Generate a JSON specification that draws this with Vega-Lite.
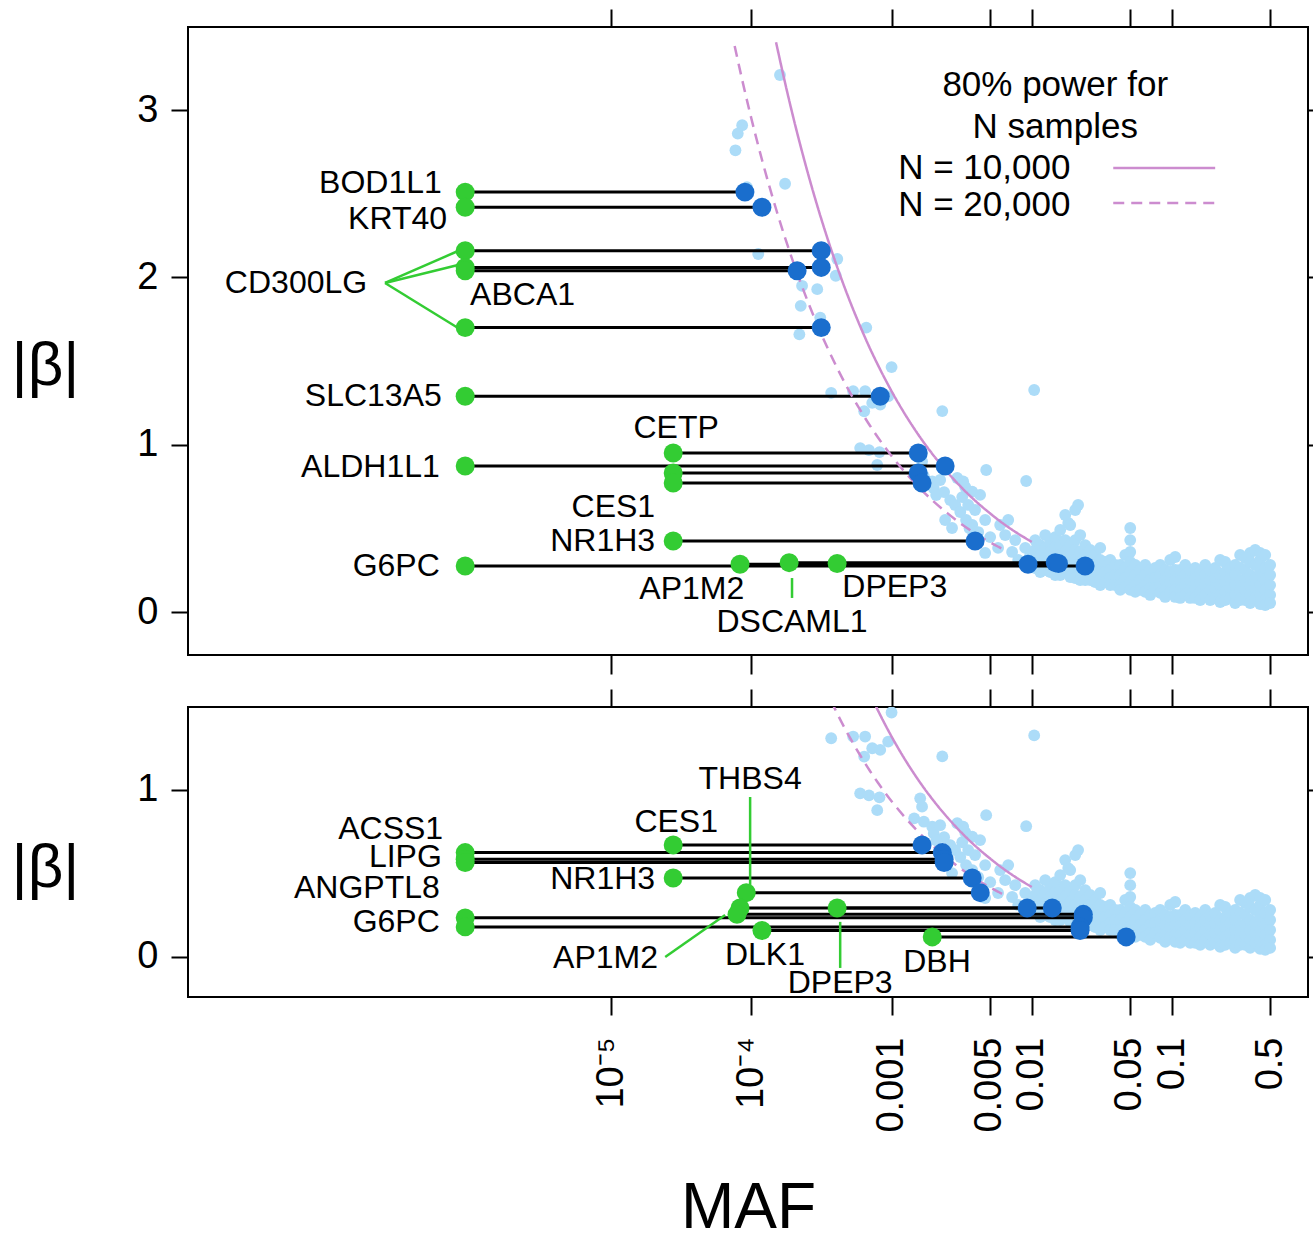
{
"$schema":"https://vega.github.io/schema/vega-lite/v6.json",
"background":"white",
"padding":{"left":10,"top":7,"right":0,"bottom":0},
"spacing":52,
"bounds":"flush",
"config":{"font":"Liberation Sans","view":{"stroke":"black","strokeWidth":2},"axis":{"labelFont":"Liberation Sans","titleFont":"Liberation Sans","labelColor":"black","titleColor":"black","tickColor":"black","tickWidth":2,"grid":false,"domain":false}},
"datasets":{
"bg":[
{"maf":1.6e-4,"beta":3.21},{"maf":8.6e-5,"beta":2.91},{"maf":8.0e-5,"beta":2.86},{"maf":7.7e-5,"beta":2.76},{"maf":1.74e-4,"beta":2.56},{"maf":9.3e-5,"beta":2.54},{"maf":1.12e-4,"beta":2.14},{"maf":4.1e-4,"beta":2.11},{"maf":4.0e-4,"beta":2.01},{"maf":2.3e-4,"beta":1.95},{"maf":2.95e-4,"beta":1.93},{"maf":2.25e-4,"beta":1.83},{"maf":3.1e-4,"beta":1.76},{"maf":2.2e-4,"beta":1.66},{"maf":6.6e-4,"beta":1.70},
{"maf":1.0e-3,"beta":1.464},{"maf":0.0104,"beta":1.327},{"maf":3.71e-4,"beta":1.31},{"maf":5.32e-4,"beta":1.32},{"maf":6.48e-4,"beta":1.32},{"maf":7.28e-4,"beta":1.25},{"maf":8.3e-4,"beta":1.24},{"maf":9.46e-4,"beta":1.29},{"maf":6.38e-4,"beta":1.20},{"maf":2.3e-3,"beta":1.201},
{"maf":5.97e-4,"beta":0.98},{"maf":6.9e-4,"beta":0.968},{"maf":8.2e-4,"beta":0.956},{"maf":7.9e-4,"beta":0.879},{"maf":1.6e-3,"beta":0.95},{"maf":1.65e-3,"beta":0.90},{"maf":1.45e-3,"beta":0.83},{"maf":1.7e-3,"beta":0.81},{"maf":1.95e-3,"beta":0.78},{"maf":2.0e-3,"beta":0.74},{"maf":3.24e-3,"beta":0.78},
{"maf":2.22e-3,"beta":0.789},{"maf":2.37e-3,"beta":0.717},{"maf":2.62e-3,"beta":0.669},{"maf":2.08e-3,"beta":0.699},{"maf":2.84e-3,"beta":0.64},{"maf":3.19e-3,"beta":0.687},{"maf":3.09e-3,"beta":0.598},{"maf":3.4e-3,"beta":0.55},{"maf":2.41e-3,"beta":0.55},{"maf":2.7e-3,"beta":0.502},{"maf":3.76e-3,"beta":0.52},{"maf":4.15e-3,"beta":0.478},{"maf":4.65e-3,"beta":0.55},{"maf":5.05e-3,"beta":0.448},{"maf":5.75e-3,"beta":0.383},{"maf":4.65e-3,"beta":0.353},{"maf":6.46e-3,"beta":0.46},{"maf":7.24e-3,"beta":0.359},{"maf":8.0e-3,"beta":0.311},{"maf":8.98e-3,"beta":0.383},{"maf":9.75e-3,"beta":0.341},{"maf":4.73e-3,"beta":0.849},{"maf":9.12e-3,"beta":0.783},{"maf":3.35e-3,"beta":0.747},{"maf":2.94e-3,"beta":0.801},{"maf":3.52e-3,"beta":0.64},{"maf":3.94e-3,"beta":0.61},{"maf":5.95e-3,"beta":0.52},{"maf":6.79e-3,"beta":0.55},{"maf":7.62e-3,"beta":0.43},{"maf":3.6e-3,"beta":0.50},{"maf":3.76e-3,"beta":0.72},{"maf":4.28e-3,"beta":0.70},
{"maf":0.0182,"beta":0.532},{"maf":0.0214,"beta":0.64},{"maf":0.361,"beta":0.353},
{"maf":0.01057,"beta":0.430},{"maf":0.01057,"beta":0.371},{"maf":0.01057,"beta":0.311},{"maf":0.01057,"beta":0.263},
{"maf":0.01148,"beta":0.400},{"maf":0.01148,"beta":0.341},{"maf":0.01148,"beta":0.281},{"maf":0.01148,"beta":0.239},
{"maf":0.01247,"beta":0.460},{"maf":0.01247,"beta":0.383},{"maf":0.01247,"beta":0.323},{"maf":0.01247,"beta":0.251},
{"maf":0.01353,"beta":0.418},{"maf":0.01353,"beta":0.359},{"maf":0.01353,"beta":0.239},
{"maf":0.01469,"beta":0.448},{"maf":0.01469,"beta":0.389},{"maf":0.01469,"beta":0.329},{"maf":0.01469,"beta":0.221},
{"maf":0.01595,"beta":0.490},{"maf":0.01595,"beta":0.400},{"maf":0.01595,"beta":0.341},{"maf":0.01595,"beta":0.281},{"maf":0.01595,"beta":0.221},
{"maf":0.01731,"beta":0.580},{"maf":0.01731,"beta":0.430},{"maf":0.01731,"beta":0.359},{"maf":0.01731,"beta":0.299},{"maf":0.01731,"beta":0.239},
{"maf":0.0188,"beta":0.520},{"maf":0.0188,"beta":0.400},{"maf":0.0188,"beta":0.329},{"maf":0.0188,"beta":0.269},{"maf":0.0188,"beta":0.209},
{"maf":0.02041,"beta":0.610},{"maf":0.02041,"beta":0.430},{"maf":0.02041,"beta":0.371},{"maf":0.02041,"beta":0.311},{"maf":0.02041,"beta":0.251},{"maf":0.02041,"beta":0.203},
{"maf":0.02215,"beta":0.460},{"maf":0.02215,"beta":0.359},{"maf":0.02215,"beta":0.299},{"maf":0.02215,"beta":0.239},{"maf":0.02215,"beta":0.191},
{"maf":0.02405,"beta":0.400},{"maf":0.02405,"beta":0.341},{"maf":0.02405,"beta":0.221},{"maf":0.02405,"beta":0.191},
{"maf":0.02611,"beta":0.371},{"maf":0.02611,"beta":0.311},{"maf":0.02611,"beta":0.251},{"maf":0.02611,"beta":0.191},
{"maf":0.02834,"beta":0.341},{"maf":0.02834,"beta":0.281},{"maf":0.02834,"beta":0.221},{"maf":0.02834,"beta":0.179},
{"maf":0.03077,"beta":0.383},{"maf":0.03077,"beta":0.311},{"maf":0.03077,"beta":0.251},{"maf":0.03077,"beta":0.191},{"maf":0.03077,"beta":0.161},
{"maf":0.0334,"beta":0.299},{"maf":0.0334,"beta":0.239},{"maf":0.0334,"beta":0.179},
{"maf":0.03626,"beta":0.311},{"maf":0.03626,"beta":0.251},{"maf":0.03626,"beta":0.203},{"maf":0.03626,"beta":0.161},
{"maf":0.03936,"beta":0.281},{"maf":0.03936,"beta":0.221},{"maf":0.03936,"beta":0.161},
{"maf":0.04273,"beta":0.281},{"maf":0.04273,"beta":0.221},{"maf":0.04273,"beta":0.161},{"maf":0.04273,"beta":0.132},
{"maf":0.04639,"beta":0.341},{"maf":0.04639,"beta":0.263},{"maf":0.04639,"beta":0.203},{"maf":0.04639,"beta":0.149},
{"maf":0.05036,"beta":0.502},{"maf":0.05036,"beta":0.430},{"maf":0.05036,"beta":0.359},{"maf":0.05036,"beta":0.299},{"maf":0.05036,"beta":0.239},{"maf":0.05036,"beta":0.179},{"maf":0.05036,"beta":0.132},
{"maf":0.05467,"beta":0.281},{"maf":0.05467,"beta":0.221},{"maf":0.05467,"beta":0.161},{"maf":0.05467,"beta":0.120},
{"maf":0.05935,"beta":0.251},{"maf":0.05935,"beta":0.191},{"maf":0.05935,"beta":0.132},
{"maf":0.06443,"beta":0.281},{"maf":0.06443,"beta":0.221},{"maf":0.06443,"beta":0.161},{"maf":0.06443,"beta":0.120},
{"maf":0.06994,"beta":0.251},{"maf":0.06994,"beta":0.191},{"maf":0.06994,"beta":0.143},{"maf":0.06994,"beta":0.102},
{"maf":0.07593,"beta":0.263},{"maf":0.07593,"beta":0.203},{"maf":0.07593,"beta":0.143},
{"maf":0.0824,"beta":0.281},{"maf":0.0824,"beta":0.221},{"maf":0.0824,"beta":0.161},{"maf":0.0824,"beta":0.114},
{"maf":0.0894,"beta":0.251},{"maf":0.0894,"beta":0.191},{"maf":0.0894,"beta":0.132},{"maf":0.0894,"beta":0.090},
{"maf":0.0971,"beta":0.311},{"maf":0.0971,"beta":0.239},{"maf":0.0971,"beta":0.179},{"maf":0.0971,"beta":0.120},
{"maf":0.1054,"beta":0.329},{"maf":0.1054,"beta":0.251},{"maf":0.1054,"beta":0.191},{"maf":0.1054,"beta":0.132},{"maf":0.1054,"beta":0.090},
{"maf":0.1144,"beta":0.251},{"maf":0.1144,"beta":0.191},{"maf":0.1144,"beta":0.132},{"maf":0.1144,"beta":0.084},
{"maf":0.1242,"beta":0.281},{"maf":0.1242,"beta":0.221},{"maf":0.1242,"beta":0.161},{"maf":0.1242,"beta":0.102},
{"maf":0.1348,"beta":0.251},{"maf":0.1348,"beta":0.191},{"maf":0.1348,"beta":0.132},{"maf":0.1348,"beta":0.084},
{"maf":0.1464,"beta":0.263},{"maf":0.1464,"beta":0.203},{"maf":0.1464,"beta":0.143},{"maf":0.1464,"beta":0.084},
{"maf":0.1589,"beta":0.239},{"maf":0.1589,"beta":0.179},{"maf":0.1589,"beta":0.120},{"maf":0.1589,"beta":0.072},
{"maf":0.1725,"beta":0.281},{"maf":0.1725,"beta":0.221},{"maf":0.1725,"beta":0.161},{"maf":0.1725,"beta":0.102},
{"maf":0.1872,"beta":0.251},{"maf":0.1872,"beta":0.191},{"maf":0.1872,"beta":0.132},{"maf":0.1872,"beta":0.072},
{"maf":0.2032,"beta":0.263},{"maf":0.2032,"beta":0.203},{"maf":0.2032,"beta":0.143},{"maf":0.2032,"beta":0.084},
{"maf":0.2206,"beta":0.311},{"maf":0.2206,"beta":0.221},{"maf":0.2206,"beta":0.161},{"maf":0.2206,"beta":0.102},{"maf":0.2206,"beta":0.060},
{"maf":0.2395,"beta":0.299},{"maf":0.2395,"beta":0.239},{"maf":0.2395,"beta":0.179},{"maf":0.2395,"beta":0.120},{"maf":0.2395,"beta":0.072},
{"maf":0.26,"beta":0.263},{"maf":0.26,"beta":0.203},{"maf":0.26,"beta":0.143},{"maf":0.26,"beta":0.084},
{"maf":0.282,"beta":0.281},{"maf":0.282,"beta":0.221},{"maf":0.282,"beta":0.161},{"maf":0.282,"beta":0.102},{"maf":0.282,"beta":0.054},
{"maf":0.306,"beta":0.341},{"maf":0.306,"beta":0.263},{"maf":0.306,"beta":0.191},{"maf":0.306,"beta":0.132},{"maf":0.306,"beta":0.072},
{"maf":0.332,"beta":0.323},{"maf":0.332,"beta":0.251},{"maf":0.332,"beta":0.191},{"maf":0.332,"beta":0.132},{"maf":0.332,"beta":0.072},
{"maf":0.361,"beta":0.299},{"maf":0.361,"beta":0.221},{"maf":0.361,"beta":0.161},{"maf":0.361,"beta":0.102},{"maf":0.361,"beta":0.054},
{"maf":0.392,"beta":0.371},{"maf":0.392,"beta":0.281},{"maf":0.392,"beta":0.203},{"maf":0.392,"beta":0.143},{"maf":0.392,"beta":0.084},
{"maf":0.425,"beta":0.353},{"maf":0.425,"beta":0.311},{"maf":0.425,"beta":0.239},{"maf":0.425,"beta":0.161},{"maf":0.425,"beta":0.102},{"maf":0.425,"beta":0.048},
{"maf":0.462,"beta":0.341},{"maf":0.462,"beta":0.263},{"maf":0.462,"beta":0.191},{"maf":0.462,"beta":0.132},{"maf":0.462,"beta":0.072},{"maf":0.462,"beta":0.042},
{"maf":0.501,"beta":0.281},{"maf":0.501,"beta":0.221},{"maf":0.501,"beta":0.161},{"maf":0.501,"beta":0.102},{"maf":0.501,"beta":0.054}
],
"curve":[
{"N":"10,000","maf":1.5e-4,"beta":3.406},{"N":"10,000","maf":1.7e-4,"beta":3.2},{"N":"10,000","maf":2e-4,"beta":2.95},{"N":"10,000","maf":2.5e-4,"beta":2.639},{"N":"10,000","maf":3e-4,"beta":2.409},{"N":"10,000","maf":4e-4,"beta":2.086},{"N":"10,000","maf":5e-4,"beta":1.866},{"N":"10,000","maf":6e-4,"beta":1.704},{"N":"10,000","maf":7e-4,"beta":1.577},{"N":"10,000","maf":8e-4,"beta":1.476},{"N":"10,000","maf":1e-3,"beta":1.32},{"N":"10,000","maf":1.5e-3,"beta":1.078},{"N":"10,000","maf":2e-3,"beta":0.934},{"N":"10,000","maf":2.5e-3,"beta":0.836},{"N":"10,000","maf":3e-3,"beta":0.763},{"N":"10,000","maf":4e-3,"beta":0.661},{"N":"10,000","maf":5e-3,"beta":0.592},{"N":"10,000","maf":6e-3,"beta":0.54},{"N":"10,000","maf":7e-3,"beta":0.5},{"N":"10,000","maf":8e-3,"beta":0.468},{"N":"10,000","maf":0.01,"beta":0.419},
{"N":"20,000","maf":7.6e-5,"beta":3.384},{"N":"20,000","maf":8.7e-5,"beta":3.163},{"N":"20,000","maf":1e-4,"beta":2.95},{"N":"20,000","maf":1.2e-4,"beta":2.693},{"N":"20,000","maf":1.5e-4,"beta":2.409},{"N":"20,000","maf":2e-4,"beta":2.086},{"N":"20,000","maf":2.5e-4,"beta":1.866},{"N":"20,000","maf":3e-4,"beta":1.703},{"N":"20,000","maf":4e-4,"beta":1.475},{"N":"20,000","maf":5e-4,"beta":1.319},{"N":"20,000","maf":6e-4,"beta":1.205},{"N":"20,000","maf":7e-4,"beta":1.115},{"N":"20,000","maf":8e-4,"beta":1.043},{"N":"20,000","maf":1e-3,"beta":0.933},{"N":"20,000","maf":1.5e-3,"beta":0.762},{"N":"20,000","maf":2e-3,"beta":0.66},{"N":"20,000","maf":2.5e-3,"beta":0.591},{"N":"20,000","maf":3e-3,"beta":0.539},{"N":"20,000","maf":4e-3,"beta":0.467},{"N":"20,000","maf":5e-3,"beta":0.418},{"N":"20,000","maf":5.8e-3,"beta":0.389},{"N":"20,000","maf":6.7e-3,"beta":0.362}
],
"segTop":[
{"g":"BOD1L1","lo":9.1e-7,"hi":9.0e-5,"beta":2.51},
{"g":"KRT40","lo":9.1e-7,"hi":1.19e-4,"beta":2.42},
{"g":"CD300LG","lo":9.1e-7,"hi":3.15e-4,"beta":2.16},
{"g":"CD300LG","lo":9.1e-7,"hi":3.15e-4,"beta":2.06},
{"g":"ABCA1","lo":9.1e-7,"hi":2.12e-4,"beta":2.04},
{"g":"CD300LG","lo":9.1e-7,"hi":3.15e-4,"beta":1.70},
{"g":"SLC13A5","lo":9.1e-7,"hi":8.3e-4,"beta":1.29},
{"g":"CETP","lo":2.77e-5,"hi":1.55e-3,"beta":0.95},
{"g":"ALDH1L1","lo":9.1e-7,"hi":2.41e-3,"beta":0.873},
{"g":"CES1","lo":2.77e-5,"hi":1.55e-3,"beta":0.831},
{"g":"CES1","lo":2.77e-5,"hi":1.65e-3,"beta":0.771},
{"g":"NR1H3","lo":2.77e-5,"hi":3.94e-3,"beta":0.424},
{"g":"G6PC","lo":9.1e-7,"hi":0.024,"beta":0.275},
{"g":"AP1M2","lo":8.3e-5,"hi":9.4e-3,"beta":0.285},
{"g":"DSCAML1","lo":1.86e-4,"hi":0.0147,"beta":0.295},
{"g":"DPEP3","lo":4.09e-4,"hi":0.0155,"beta":0.29}
],
"segBot":[
{"g":"CES1","lo":2.77e-5,"hi":1.65e-3,"beta":0.671},
{"g":"ACSS1","lo":9.1e-7,"hi":2.30e-3,"beta":0.625},
{"g":"LIPG","lo":9.1e-7,"hi":2.37e-3,"beta":0.585},
{"g":"ANGPTL8","lo":9.1e-7,"hi":2.37e-3,"beta":0.565},
{"g":"NR1H3","lo":2.77e-5,"hi":3.76e-3,"beta":0.473},
{"g":"THBS4","lo":9.2e-5,"hi":4.29e-3,"beta":0.385},
{"g":"AP1M2","lo":8.3e-5,"hi":9.27e-3,"beta":0.293},
{"g":"DPEP3","lo":4.09e-4,"hi":0.014,"beta":0.293},
{"g":"AP1M2","lo":7.9e-5,"hi":0.0233,"beta":0.255},
{"g":"G6PC","lo":9.1e-7,"hi":0.0233,"beta":0.234},
{"g":"G6PC","lo":9.1e-7,"hi":0.0221,"beta":0.18},
{"g":"DLK1","lo":1.19e-4,"hi":0.0221,"beta":0.158},
{"g":"DBH","lo":1.95e-3,"hi":0.0471,"beta":0.12}
],
"labTop":[
{"t":"BOD1L1","maf":6.2e-7,"beta":2.564,"a":"r"},
{"t":"KRT40","maf":6.76e-7,"beta":2.349,"a":"r"},
{"t":"CD300LG","maf":1.82e-7,"beta":1.967,"a":"r"},
{"t":"ABCA1","maf":9.87e-7,"beta":1.895,"a":"l"},
{"t":"SLC13A5","maf":6.2e-7,"beta":1.291,"a":"r"},
{"t":"CETP","maf":2.91e-5,"beta":1.1,"a":"c"},
{"t":"ALDH1L1","maf":6.0e-7,"beta":0.867,"a":"r"},
{"t":"CES1","maf":2.06e-5,"beta":0.628,"a":"r"},
{"t":"NR1H3","maf":2.06e-5,"beta":0.424,"a":"r"},
{"t":"G6PC","maf":6.0e-7,"beta":0.275,"a":"r"},
{"t":"AP1M2","maf":8.9e-5,"beta":0.137,"a":"r"},
{"t":"DSCAML1","maf":1.95e-4,"beta":-0.06,"a":"c"},
{"t":"DPEP3","maf":4.45e-4,"beta":0.149,"a":"l"}
],
"labBot":[
{"t":"THBS4","maf":9.8e-5,"beta":1.066,"a":"c"},
{"t":"CES1","maf":2.91e-5,"beta":0.808,"a":"c"},
{"t":"ACSS1","maf":6.34e-7,"beta":0.768,"a":"r"},
{"t":"LIPG","maf":6.2e-7,"beta":0.599,"a":"r"},
{"t":"ANGPTL8","maf":6.0e-7,"beta":0.415,"a":"r"},
{"t":"G6PC","maf":6.0e-7,"beta":0.21,"a":"r"},
{"t":"NR1H3","maf":2.06e-5,"beta":0.467,"a":"r"},
{"t":"AP1M2","maf":2.16e-5,"beta":-0.006,"a":"r"},
{"t":"DLK1","maf":1.25e-4,"beta":0.012,"a":"c"},
{"t":"DPEP3","maf":4.3e-4,"beta":-0.156,"a":"c"},
{"t":"DBH","maf":2.11e-3,"beta":-0.03,"a":"c"}
],
"leadTop":[
{"x1":2.44e-7,"x2":8.1e-7,"y1":1.967,"y2":2.158},
{"x1":2.44e-7,"x2":8.1e-7,"y1":1.967,"y2":2.074},
{"x1":2.44e-7,"x2":8.1e-7,"y1":1.967,"y2":1.698},
{"x1":1.95e-4,"x2":1.95e-4,"y1":0.203,"y2":0.084}
],
"leadBot":[
{"x1":9.8e-5,"x2":9.8e-5,"y1":0.958,"y2":0.431},
{"x1":2.43e-5,"x2":6.5e-5,"y1":0.0,"y2":0.251},
{"x1":4.3e-4,"x2":4.3e-4,"y1":0.21,"y2":-0.066}
],
"legText":[
{"t":"80% power for","maf":0.01469,"beta":3.15,"a":"c"},
{"t":"N samples","maf":0.01469,"beta":2.899,"a":"c"},
{"t":"N = 10,000","maf":1.114e-3,"beta":2.654,"a":"l"},
{"t":"N = 20,000","maf":1.114e-3,"beta":2.433,"a":"l"}
],
"legLine":[
{"maf":0.0381,"maf2":0.2032,"beta":2.654,"N":"10,000"},
{"maf":0.0381,"maf2":0.2032,"beta":2.445,"N":"20,000"}
]
},
"vconcat":[
{
"width":1120,"height":628,
"resolve":{"axis":{"x":"independent","y":"independent"}},
"layer":[
{"data":{"name":"bg"},"mark":{"type":"circle","size":140,"opacity":1,"color":"#acdcf8","clip":true},
"encoding":{"x":{"field":"maf","type":"quantitative","scale":{"type":"log","domain":[9.6e-9,0.933],"nice":false},"axis":{"orient":"bottom","values":[1e-5,1e-4,1e-3,5e-3,1e-2,5e-2,0.1,0.5],"labels":false,"tickSize":19,"title":null}},
"y":{"field":"beta","type":"quantitative","scale":{"domain":[-0.257,3.497],"nice":false,"zero":false},"axis":{"orient":"left","values":[0,1,2,3],"tickSize":17,"labelFontSize":38,"labelPadding":13,"title":"|β|","titleFontSize":62,"titleFontWeight":"normal","titleAngle":0,"titleX":-143,"titleY":338,"titleAlign":"center","titleBaseline":"middle"}}}},
{"data":{"name":"segTop"},"mark":{"type":"rule","color":"black","strokeWidth":3,"clip":true},
"encoding":{"x":{"field":"lo","type":"quantitative","scale":{"type":"log","domain":[9.6e-9,0.933],"nice":false},"axis":{"orient":"top","values":[1e-5,1e-4,1e-3,5e-3,1e-2,5e-2,0.1,0.5],"labels":false,"tickSize":18,"title":null}},"x2":{"field":"hi"},
"y":{"field":"beta","type":"quantitative","scale":{"domain":[-0.257,3.497],"nice":false,"zero":false},"axis":{"orient":"right","values":[0,1,2,3],"labels":false,"tickSize":5,"title":null}}}},
{"data":{"name":"curve"},"mark":{"type":"line","color":"#cc8ccf","strokeWidth":2.5,"interpolate":"monotone","clip":true},
"encoding":{"x":{"field":"maf","type":"quantitative","scale":{"type":"log","domain":[9.6e-9,0.933],"nice":false},"axis":null},
"y":{"field":"beta","type":"quantitative","scale":{"domain":[-0.257,3.497],"nice":false,"zero":false},"axis":null},
"strokeDash":{"field":"N","type":"nominal","scale":{"domain":["10,000","20,000"],"range":[[1,0],[11,7]]},"legend":null}}},
{"data":{"name":"legLine"},"mark":{"type":"rule","color":"#cc8ccf","strokeWidth":2.5},
"encoding":{"x":{"field":"maf","type":"quantitative","scale":{"type":"log","domain":[9.6e-9,0.933],"nice":false},"axis":null},"x2":{"field":"maf2"},
"y":{"field":"beta","type":"quantitative","scale":{"domain":[-0.257,3.497],"nice":false,"zero":false},"axis":null},
"strokeDash":{"field":"N","type":"nominal","scale":{"domain":["10,000","20,000"],"range":[[1,0],[11,7]]},"legend":null}}},
{"data":{"name":"segTop"},"mark":{"type":"circle","size":360,"opacity":1,"color":"#1a6ecd"},
"encoding":{"x":{"field":"hi","type":"quantitative","scale":{"type":"log","domain":[9.6e-9,0.933],"nice":false},"axis":null},
"y":{"field":"beta","type":"quantitative","scale":{"domain":[-0.257,3.497],"nice":false,"zero":false},"axis":null}}},
{"data":{"name":"segTop"},"mark":{"type":"circle","size":360,"opacity":1,"color":"#33cc33"},
"encoding":{"x":{"field":"lo","type":"quantitative","scale":{"type":"log","domain":[9.6e-9,0.933],"nice":false},"axis":null},
"y":{"field":"beta","type":"quantitative","scale":{"domain":[-0.257,3.497],"nice":false,"zero":false},"axis":null}}},
{"data":{"name":"leadTop"},"mark":{"type":"rule","color":"#33cc33","strokeWidth":2.5},
"encoding":{"x":{"field":"x1","type":"quantitative","scale":{"type":"log","domain":[9.6e-9,0.933],"nice":false},"axis":null},"x2":{"field":"x2"},
"y":{"field":"y1","type":"quantitative","scale":{"domain":[-0.257,3.497],"nice":false,"zero":false},"axis":null},"y2":{"field":"y2"}}},
{"data":{"name":"labTop"},"transform":[{"filter":"datum.a == 'r'"}],"mark":{"type":"text","align":"right","baseline":"middle","fontSize":32,"color":"black"},
"encoding":{"x":{"field":"maf","type":"quantitative","scale":{"type":"log","domain":[9.6e-9,0.933],"nice":false},"axis":null},
"y":{"field":"beta","type":"quantitative","scale":{"domain":[-0.257,3.497],"nice":false,"zero":false},"axis":null},"text":{"field":"t"}}},
{"data":{"name":"labTop"},"transform":[{"filter":"datum.a == 'l'"}],"mark":{"type":"text","align":"left","baseline":"middle","fontSize":32,"color":"black"},
"encoding":{"x":{"field":"maf","type":"quantitative","scale":{"type":"log","domain":[9.6e-9,0.933],"nice":false},"axis":null},
"y":{"field":"beta","type":"quantitative","scale":{"domain":[-0.257,3.497],"nice":false,"zero":false},"axis":null},"text":{"field":"t"}}},
{"data":{"name":"labTop"},"transform":[{"filter":"datum.a == 'c'"}],"mark":{"type":"text","align":"center","baseline":"middle","fontSize":32,"color":"black"},
"encoding":{"x":{"field":"maf","type":"quantitative","scale":{"type":"log","domain":[9.6e-9,0.933],"nice":false},"axis":null},
"y":{"field":"beta","type":"quantitative","scale":{"domain":[-0.257,3.497],"nice":false,"zero":false},"axis":null},"text":{"field":"t"}}},
{"data":{"name":"legText"},"transform":[{"filter":"datum.a == 'c'"}],"mark":{"type":"text","align":"center","baseline":"middle","fontSize":35,"color":"black"},
"encoding":{"x":{"field":"maf","type":"quantitative","scale":{"type":"log","domain":[9.6e-9,0.933],"nice":false},"axis":null},
"y":{"field":"beta","type":"quantitative","scale":{"domain":[-0.257,3.497],"nice":false,"zero":false},"axis":null},"text":{"field":"t"}}},
{"data":{"name":"legText"},"transform":[{"filter":"datum.a == 'l'"}],"mark":{"type":"text","align":"left","baseline":"middle","fontSize":35,"color":"black"},
"encoding":{"x":{"field":"maf","type":"quantitative","scale":{"type":"log","domain":[9.6e-9,0.933],"nice":false},"axis":null},
"y":{"field":"beta","type":"quantitative","scale":{"domain":[-0.257,3.497],"nice":false,"zero":false},"axis":null},"text":{"field":"t"}}}
]
},
{
"width":1120,"height":290,
"resolve":{"axis":{"x":"independent","y":"independent"}},
"layer":[
{"data":{"name":"bg"},"mark":{"type":"circle","size":140,"opacity":1,"color":"#acdcf8","clip":true},
"encoding":{"x":{"field":"maf","type":"quantitative","scale":{"type":"log","domain":[9.6e-9,0.933],"nice":false},"axis":{"orient":"bottom","values":[1e-5,1e-4,1e-3,5e-3,1e-2,5e-2,0.1,0.5],"tickSize":18,"labelFontSize":38,"labelAngle":-90,"labelAlign":"right","labelBaseline":"middle","labelPadding":22,"labelOverlap":false,"labelFlush":false,"labelExpr":"datum.value < 2e-5 ? '10⁻⁵' : datum.value < 2e-4 ? '10⁻⁴' : datum.value < 2e-3 ? '0.001' : datum.value < 7e-3 ? '0.005' : datum.value < 0.02 ? '0.01' : datum.value < 0.07 ? '0.05' : datum.value < 0.2 ? '0.1' : '0.5'","title":"MAF","titleFontSize":64,"titleFontWeight":"normal","titlePadding":44}},
"y":{"field":"beta","type":"quantitative","scale":{"domain":[-0.24,1.497],"nice":false,"zero":false},"axis":{"orient":"left","values":[0,1],"tickSize":17,"labelFontSize":38,"labelPadding":13,"title":"|β|","titleFontSize":62,"titleFontWeight":"normal","titleAngle":0,"titleX":-143,"titleY":160,"titleAlign":"center","titleBaseline":"middle"}}}},
{"data":{"name":"segBot"},"mark":{"type":"rule","color":"black","strokeWidth":3,"clip":true},
"encoding":{"x":{"field":"lo","type":"quantitative","scale":{"type":"log","domain":[9.6e-9,0.933],"nice":false},"axis":{"orient":"top","values":[1e-5,1e-4,1e-3,5e-3,1e-2,5e-2,0.1,0.5],"labels":false,"tickSize":18,"title":null}},"x2":{"field":"hi"},
"y":{"field":"beta","type":"quantitative","scale":{"domain":[-0.24,1.497],"nice":false,"zero":false},"axis":{"orient":"right","values":[0,1],"labels":false,"tickSize":5,"title":null}}}},
{"data":{"name":"curve"},"mark":{"type":"line","color":"#cc8ccf","strokeWidth":2.5,"interpolate":"monotone","clip":true},
"encoding":{"x":{"field":"maf","type":"quantitative","scale":{"type":"log","domain":[9.6e-9,0.933],"nice":false},"axis":null},
"y":{"field":"beta","type":"quantitative","scale":{"domain":[-0.24,1.497],"nice":false,"zero":false},"axis":null},
"strokeDash":{"field":"N","type":"nominal","scale":{"domain":["10,000","20,000"],"range":[[1,0],[11,7]]},"legend":null}}},
{"data":{"name":"segBot"},"mark":{"type":"circle","size":360,"opacity":1,"color":"#1a6ecd"},
"encoding":{"x":{"field":"hi","type":"quantitative","scale":{"type":"log","domain":[9.6e-9,0.933],"nice":false},"axis":null},
"y":{"field":"beta","type":"quantitative","scale":{"domain":[-0.24,1.497],"nice":false,"zero":false},"axis":null}}},
{"data":{"name":"segBot"},"mark":{"type":"circle","size":360,"opacity":1,"color":"#33cc33"},
"encoding":{"x":{"field":"lo","type":"quantitative","scale":{"type":"log","domain":[9.6e-9,0.933],"nice":false},"axis":null},
"y":{"field":"beta","type":"quantitative","scale":{"domain":[-0.24,1.497],"nice":false,"zero":false},"axis":null}}},
{"data":{"name":"leadBot"},"mark":{"type":"rule","color":"#33cc33","strokeWidth":2.5},
"encoding":{"x":{"field":"x1","type":"quantitative","scale":{"type":"log","domain":[9.6e-9,0.933],"nice":false},"axis":null},"x2":{"field":"x2"},
"y":{"field":"y1","type":"quantitative","scale":{"domain":[-0.24,1.497],"nice":false,"zero":false},"axis":null},"y2":{"field":"y2"}}},
{"data":{"name":"labBot"},"transform":[{"filter":"datum.a == 'r'"}],"mark":{"type":"text","align":"right","baseline":"middle","fontSize":32,"color":"black"},
"encoding":{"x":{"field":"maf","type":"quantitative","scale":{"type":"log","domain":[9.6e-9,0.933],"nice":false},"axis":null},
"y":{"field":"beta","type":"quantitative","scale":{"domain":[-0.24,1.497],"nice":false,"zero":false},"axis":null},"text":{"field":"t"}}},
{"data":{"name":"labBot"},"transform":[{"filter":"datum.a == 'c'"}],"mark":{"type":"text","align":"center","baseline":"middle","fontSize":32,"color":"black"},
"encoding":{"x":{"field":"maf","type":"quantitative","scale":{"type":"log","domain":[9.6e-9,0.933],"nice":false},"axis":null},
"y":{"field":"beta","type":"quantitative","scale":{"domain":[-0.24,1.497],"nice":false,"zero":false},"axis":null},"text":{"field":"t"}}}
]
}
]
}
